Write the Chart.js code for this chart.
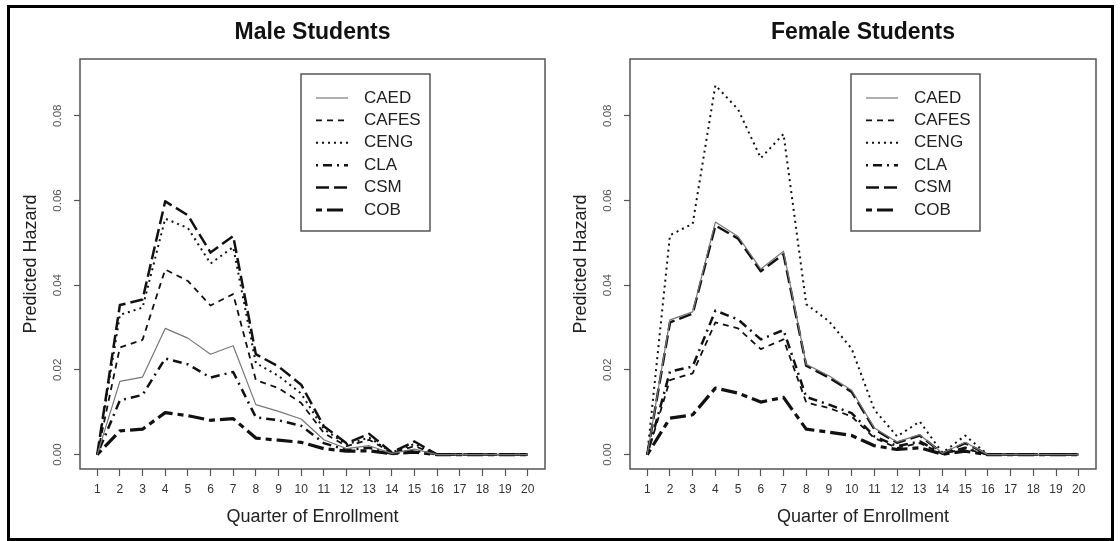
<!DOCTYPE html>
<html>
<head>
<meta charset="utf-8">
<script src="https://cdn.jsdelivr.net/npm/chart.js@4.4.1/dist/chart.umd.min.js"></script>
<style>
  html, body { margin: 0; padding: 0; background: #fff; }
  body { width: 1120px; height: 541px; position: relative; overflow: hidden; }
  #frame { position: absolute; left: 7px; top: 5px; width: 1107px; height: 536px; box-sizing: border-box; border: 3px solid #000; }
  canvas { position: absolute; top: 0; }
  #c1 { left: 10px; }
  #c2 { left: 560px; }
</style>
</head>
<body>
<div id="frame"></div>
<canvas id="c1" width="550" height="541"></canvas>
<canvas id="c2" width="550" height="541"></canvas>
<script>
// ---- Data ----
const quarters = [1,2,3,4,5,6,7,8,9,10,11,12,13,14,15,16,17,18,19,20];
const yTickValues = [0, 0.02, 0.04, 0.06, 0.08];
const seriesNames = ["CAED", "CAFES", "CENG", "CLA", "CSM", "COB"];

const maleCAED  = [0, 0.0173, 0.0183, 0.0298, 0.0275, 0.0237, 0.0257, 0.0118, 0.0102, 0.0084, 0.0035, 0.0014, 0.0021, 0.0003, 0.0013, 0, 0, 0, 0, 0];
const maleCAFES = [0, 0.0253, 0.0271, 0.0437, 0.0410, 0.0352, 0.0379, 0.0176, 0.0157, 0.0122, 0.0051, 0.0020, 0.0035, 0.0004, 0.0020, 0, 0, 0, 0, 0];
const maleCENG  = [0, 0.0330, 0.0347, 0.0557, 0.0535, 0.0451, 0.0490, 0.0216, 0.0186, 0.0144, 0.0060, 0.0024, 0.0040, 0.0005, 0.0025, 0, 0, 0, 0, 0];
const maleCLA   = [0, 0.0128, 0.0141, 0.0227, 0.0213, 0.0182, 0.0195, 0.0088, 0.0081, 0.0068, 0.0027, 0.0011, 0.0016, 0.0002, 0.0010, 0, 0, 0, 0, 0];
const maleCSM   = [0, 0.0353, 0.0366, 0.0598, 0.0565, 0.0477, 0.0516, 0.0237, 0.0208, 0.0165, 0.0067, 0.0027, 0.0049, 0.0005, 0.0031, 0, 0, 0, 0, 0];
const maleCOB   = [0, 0.0056, 0.0060, 0.0099, 0.0092, 0.0081, 0.0085, 0.0039, 0.0034, 0.0029, 0.0014, 0.0008, 0.0009, 0.0002, 0.0006, 0, 0, 0, 0, 0];

const femaleCAED  = [0, 0.0318, 0.0337, 0.0549, 0.0515, 0.0438, 0.0480, 0.0213, 0.0186, 0.0152, 0.0063, 0.0030, 0.0047, 0.0003, 0.0029, 0, 0, 0, 0, 0];
const femaleCAFES = [0, 0.0176, 0.0192, 0.0312, 0.0298, 0.0249, 0.0272, 0.0123, 0.0110, 0.0090, 0.0039, 0.0016, 0.0027, 0.0002, 0.0014, 0, 0, 0, 0, 0];
const femaleCENG  = [0, 0.0518, 0.0545, 0.0872, 0.0815, 0.0700, 0.0757, 0.0355, 0.0315, 0.0250, 0.0106, 0.0043, 0.0078, 0.0004, 0.0045, 0, 0, 0, 0, 0];
const femaleCLA   = [0, 0.0196, 0.0208, 0.0340, 0.0319, 0.0272, 0.0294, 0.0136, 0.0118, 0.0098, 0.0043, 0.0020, 0.0031, 0.0002, 0.0016, 0, 0, 0, 0, 0];
const femaleCSM   = [0, 0.0312, 0.0333, 0.0541, 0.0510, 0.0433, 0.0473, 0.0210, 0.0182, 0.0148, 0.0060, 0.0028, 0.0045, 0.0003, 0.0027, 0, 0, 0, 0, 0];
const femaleCOB   = [0, 0.0086, 0.0094, 0.0157, 0.0145, 0.0124, 0.0135, 0.0060, 0.0053, 0.0045, 0.0021, 0.0012, 0.0016, 0.0001, 0.0008, 0, 0, 0, 0, 0];

// ---- Styles ----
const lineStyles = {
  CAED:  { color: '#777', width: 1.2, dash: [] },
  CAFES: { color: '#111', width: 1.8, dash: [6, 5] },
  CENG:  { color: '#111', width: 2.0, dash: [2, 4] },
  CLA:   { color: '#111', width: 2.5, dash: [2, 5, 9, 5] },
  CSM:   { color: '#111', width: 2.5, dash: [13, 5] },
  COB:   { color: '#111', width: 3.2, dash: [6, 5, 16, 5] }
};

Chart.defaults.font.family = '"Liberation Sans", Arial, Helvetica, sans-serif';
Chart.defaults.animation = false;

const boxPlugin = {
  id: 'plotBox',
  afterDraw(chart) {
    const a = chart.chartArea, ctx = chart.ctx;
    ctx.save();
    ctx.strokeStyle = '#555';
    ctx.lineWidth = 1.5;
    ctx.setLineDash([]);
    ctx.strokeRect(a.left, a.top, a.right - a.left, a.bottom - a.top);
    ctx.restore();
  }
};

const legendBoxPlugin = {
  id: 'legendBox',
  afterDraw(chart) {
    const a = chart.chartArea, ctx = chart.ctx;
    const bx = a.left + 221, by = a.top + 15, bw = 129, bh = 157;
    ctx.save();
    ctx.fillStyle = '#fff';
    ctx.fillRect(bx, by, bw, bh);
    ctx.strokeStyle = '#555';
    ctx.lineWidth = 1.5;
    ctx.setLineDash([]);
    ctx.strokeRect(bx, by, bw, bh);
    chart.data.datasets.forEach((ds, i) => {
      const y = by + 24 + i * 22.4;
      ctx.beginPath();
      ctx.strokeStyle = ds.borderColor;
      ctx.lineWidth = ds.borderWidth;
      ctx.setLineDash(ds.borderDash || []);
      ctx.moveTo(bx + 15, y);
      ctx.lineTo(bx + 47, y);
      ctx.stroke();
      ctx.setLineDash([]);
      ctx.fillStyle = '#222';
      ctx.font = '17px "Liberation Sans", Arial, sans-serif';
      ctx.textBaseline = 'middle';
      ctx.textAlign = 'left';
      ctx.fillText(ds.label, bx + 63, y);
    });
    ctx.restore();
  }
};

function makeChart(id, title, seriesValues, padRight) {
  const datasets = seriesNames.map((name, i) => ({
    label: name,
    data: seriesValues[i],
    borderColor: lineStyles[name].color,
    borderWidth: lineStyles[name].width,
    borderDash: lineStyles[name].dash,
    borderCapStyle: 'butt',
    borderJoinStyle: 'round',
    pointRadius: 0,
    tension: 0,
    fill: false
  }));
  return new Chart(document.getElementById(id), {
    type: 'line',
    data: { labels: quarters, datasets },
    options: {
      responsive: false,
      devicePixelRatio: 1,
      animation: false,
      layout: { padding: { top: 0, left: 0, right: padRight, bottom: 0 } },
      plugins: {
        legend: { display: false },
        tooltip: { enabled: false },
        title: {
          display: true, text: title, fullSize: false,
          font: { size: 23, weight: 'bold' }, color: '#111',
          padding: { top: 19.2, bottom: 12.2 }
        }
      },
      scales: {
        x: {
          type: 'linear', min: 0.24, max: 20.76,
          afterBuildTicks: s => { s.ticks = quarters.map(v => ({ value: v })); },
          afterFit: s => { s.height = 72; },
          ticks: { autoSkip: false, minRotation: 0, maxRotation: 0, padding: 6, font: { size: 12 }, color: '#333', callback: v => String(v) },
          grid: { display: true, drawOnChartArea: false, drawTicks: true, tickLength: 7, tickColor: '#555', tickWidth: 1.2 },
          border: { display: false },
          title: { display: true, text: 'Quarter of Enrollment', font: { size: 18 }, color: '#222', padding: { top: 0, bottom: 13 } }
        },
        y: {
          min: -0.0034, max: 0.0934,
          afterBuildTicks: s => { s.ticks = yTickValues.map(v => ({ value: v })); },
          afterFit: s => { s.width = 70; },
          ticks: { minRotation: 90, maxRotation: 90, crossAlign: 'center', padding: 4.5, font: { size: 11.5 }, color: '#555', callback: v => Number(v).toFixed(2) },
          grid: { display: true, drawOnChartArea: false, drawTicks: true, tickLength: 6, tickColor: '#555', tickWidth: 1.2 },
          border: { display: false },
          title: { display: true, text: 'Predicted Hazard', font: { size: 18 }, color: '#222', padding: { top: 10, bottom: 0 } }
        }
      }
    },
    plugins: [boxPlugin, legendBoxPlugin]
  });
}

makeChart('c1', 'Male Students', [maleCAED, maleCAFES, maleCENG, maleCLA, maleCSM, maleCOB], 15);
makeChart('c2', 'Female Students', [femaleCAED, femaleCAFES, femaleCENG, femaleCLA, femaleCSM, femaleCOB], 14);
</script>
</body>
</html>
